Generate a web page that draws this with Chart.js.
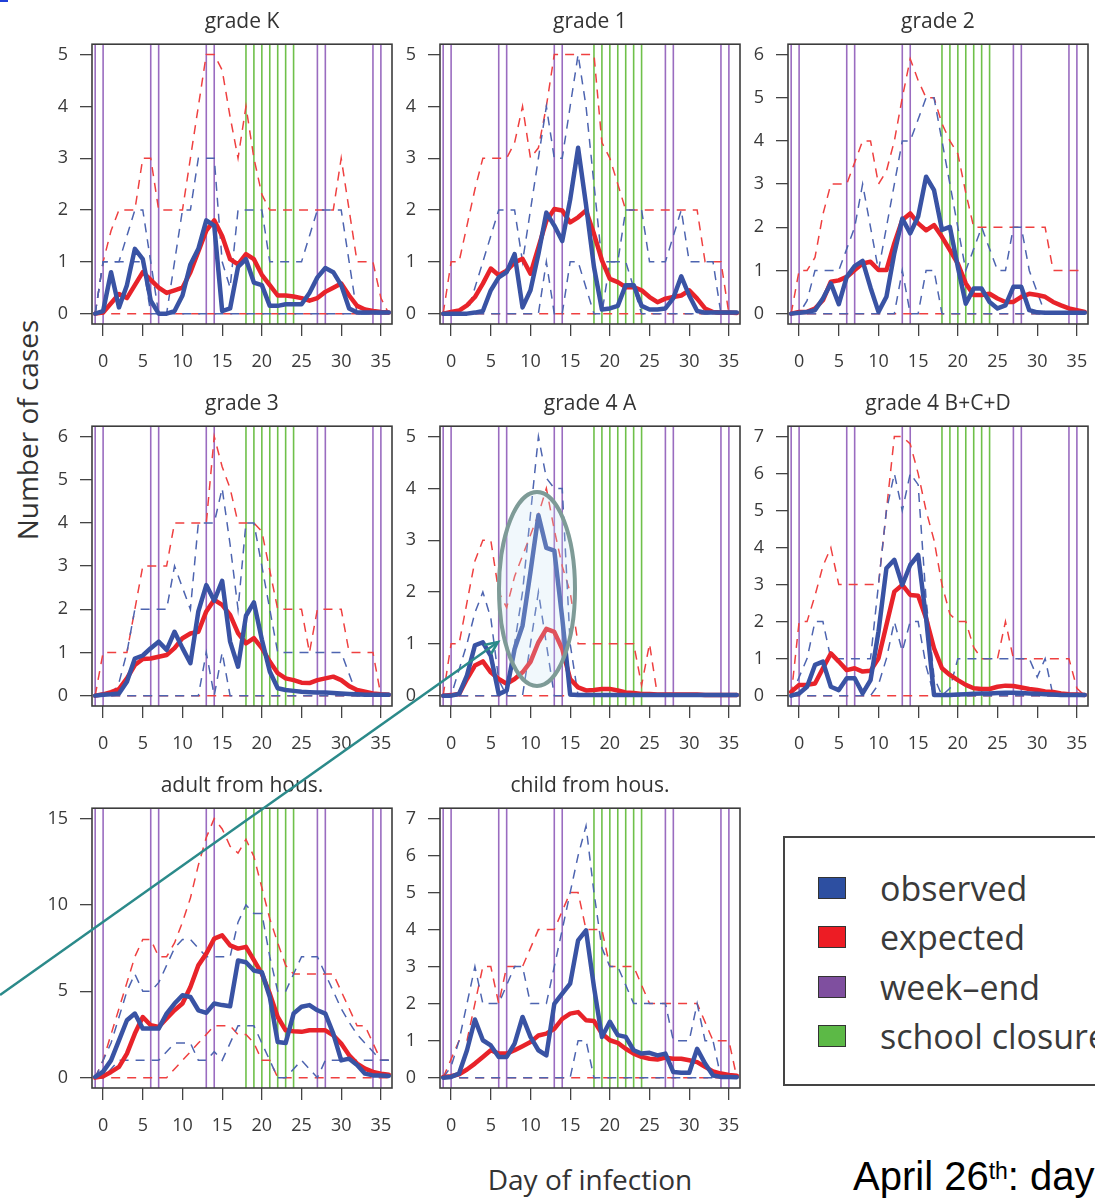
<!DOCTYPE html>
<html>
<head>
<meta charset="utf-8">
<title>Number of cases by day of infection</title>
<script src="https://cdn.jsdelivr.net/npm/chart.js@4.4.1/dist/chart.umd.min.js"></script>
<style>
  html, body { margin: 0; padding: 0; background: #fff; }
  body { position: relative; width: 1095px; height: 1201px; overflow: hidden; font-family: "Open Sans", sans-serif; color: #333; }
  canvas { position: absolute; }
  .axis-title { position: absolute; font-size: 28px; line-height: 1; white-space: nowrap; color: #333; }
  #ytitle { left: 27px; top: 430px; transform: translate(-50%, -50%) rotate(-90deg); }
  #xtitle { left: 590px; top: 1165px; transform: translateX(-50%); }
  #legend { position: absolute; left: 783px; top: 836px; width: 340px; height: 250px; box-sizing: border-box; border: 2px solid #444; }
  .key { position: absolute; left: 33px; width: 28px; height: 22px; box-sizing: border-box; border: 1.5px solid #333; }
  .key-label { position: absolute; left: 95px; font-size: 34px; line-height: 44px; white-space: nowrap; color: #3a3a3a; }
  #note { position: absolute; left: 853px; top: 1156px; font-family: "Liberation Sans", Arial, sans-serif; font-size: 40px; line-height: 40px; color: #000; white-space: nowrap; }
  #note sup { font-size: 23px; line-height: 0; vertical-align: 11px; }
  #corner { position: absolute; left: 0; top: 0; width: 8px; height: 2px; background: #2040d8; }
  #marks { position: absolute; left: 0; top: 0; pointer-events: none; }
</style>
</head>
<body>
<div id="corner"></div>

<div id="ytitle" class="axis-title">Number of cases</div>
<div id="xtitle" class="axis-title">Day of infection</div>

<div id="legend">
  <div class="key" style="top:39px;background:#2d4fa1"></div>
  <div class="key-label" style="top:28px">observed</div>
  <div class="key" style="top:88px;background:#ed1c24"></div>
  <div class="key-label" style="top:77px">expected</div>
  <div class="key" style="top:138px;background:#7f4f9f"></div>
  <div class="key-label" style="top:127px">week&#8211;end</div>
  <div class="key" style="top:187px;background:#5cb946"></div>
  <div class="key-label" style="top:176px">school closure</div>
</div>

<div id="note">April 26<sup>th</sup>: day</div>

<script>
const days = [-1, 0, 1, 2, 3, 4, 5, 6, 7, 8, 9, 10, 11, 12, 13, 14, 15, 16, 17, 18,
              19, 20, 21, 22, 23, 24, 25, 26, 27, 28, 29, 30, 31, 32, 33, 34, 35, 36];
const dayTicks = [0, 5, 10, 15, 20, 25, 30, 35];
const weekendDays = [-1, 0, 6, 7, 13, 14, 27, 28, 34, 35];
const closureDays = [18, 19, 20, 21, 22, 23, 24];

const allZero = [0, 0, 0, 0, 0, 0, 0, 0, 0, 0,
                 0, 0, 0, 0, 0, 0, 0, 0, 0, 0,
                 0, 0, 0, 0, 0, 0, 0, 0, 0, 0,
                 0, 0, 0, 0, 0, 0, 0, 0];

// grade K
const kObs = [0, 0.05, 0.8, 0.12, 0.55, 1.25, 1.05, 0.25, 0, 0,
              0.05, 0.35, 0.95, 1.25, 1.8, 1.7, 0.05, 0.1, 0.9, 1.05,
              0.6, 0.55, 0.15, 0.15, 0.18, 0.18, 0.18, 0.4, 0.7, 0.88,
              0.8, 0.55, 0.1, 0.02, 0.02, 0.02, 0.02, 0.02];
const kExp = [0, 0.02, 0.2, 0.38, 0.3, 0.55, 0.8, 0.65, 0.5, 0.4,
              0.45, 0.5, 0.8, 1.2, 1.6, 1.8, 1.5, 1.05, 0.95, 1.15,
              1.05, 0.75, 0.55, 0.35, 0.35, 0.33, 0.3, 0.25, 0.3, 0.42,
              0.5, 0.58, 0.35, 0.15, 0.08, 0.05, 0.03, 0.02];
const kExpHi = [0, 1, 1.6, 2, 2, 2, 3, 3, 2, 2,
                2, 2, 3, 4, 5, 5, 4.7, 3.8, 3, 4,
                3, 2.3, 2, 2, 2, 2, 2, 2, 2, 2,
                2, 3, 2, 1, 1, 1, 0.3, 0];
const kBandHi = [0, 1, 1, 1, 1.5, 2, 2, 1, 0, 0,
                 1, 2, 2, 3, 3, 3, 1, 0.5, 2, 2,
                 2, 2, 1, 1, 1, 1, 1, 1.5, 2, 2,
                 2, 2, 1, 0, 0, 0, 0, 0];
const kBandLo = [0, 1, 1, 1, 1, 1, 1, 0, 0, 0,
                 0, 0, 0, 0, 0, 0, 0, 0, 0, 0,
                 0, 0, 0, 0, 0, 0, 0, 0, 0, 0,
                 0, 0, 0, 0, 0, 0, 0, 0];

// grade 1
const g1Obs = [0, 0, 0, 0, 0.02, 0.05, 0.45, 0.7, 0.8, 1.15,
               0.12, 0.45, 1.15, 1.95, 1.7, 1.4, 2.2, 3.2, 2.1, 0.9,
               0.08, 0.1, 0.15, 0.55, 0.55, 0.15, 0.08, 0.08, 0.1, 0.3,
               0.72, 0.35, 0.05, 0.02, 0.02, 0.02, 0.02, 0.02];
const g1Exp = [0, 0.03, 0.06, 0.16, 0.32, 0.58, 0.87, 0.74, 0.83, 0.99,
               1.06, 0.77, 1.28, 1.79, 2.02, 1.99, 1.76, 1.86, 1.99, 1.54,
               1.03, 0.67, 0.61, 0.51, 0.51, 0.45, 0.32, 0.22, 0.29, 0.32,
               0.35, 0.45, 0.29, 0.1, 0.03, 0.02, 0.02, 0.01];
const g1ExpHi = [0, 1, 1, 1.7, 2.4, 3, 3, 3, 3, 3.3,
                 4, 3, 3.2, 4, 5, 5, 5, 5, 5, 5,
                 3.3, 3, 2.5, 2, 2, 2, 2, 2, 2, 2,
                 2, 2, 2, 1, 1, 1, 0, 0];
const g1BandHi = [0, 0, 0, 0, 0.5, 1, 1.5, 2, 2, 2,
                  1, 2, 3, 4, 3, 3, 4, 5, 4, 2.5,
                  1, 1, 1, 2, 2, 2, 1, 1, 1, 1.5,
                  2, 1, 1, 1, 1, 0, 0, 0];
const g1BandLo = [0, 0, 0, 0, 0, 0, 0, 0, 0, 0,
                  0, 0, 0, 1, 0, 0, 1, 1, 0.5, 0,
                  0, 1, 1, 1, 0.5, 0, 0, 0, 0, 0,
                  0, 0, 0, 0, 0, 0, 0, 0];

// grade 2
const g2Obs = [0, 0.02, 0.04, 0.08, 0.35, 0.7, 0.22, 0.85, 1.1, 1.22,
               0.6, 0.04, 0.39, 1.4, 2.2, 1.86, 2.25, 3.17, 2.86, 1.94,
               2.01, 1.08, 0.23, 0.58, 0.58, 0.27, 0.12, 0.19, 0.62, 0.62,
               0.08, 0.03, 0.02, 0.02, 0.02, 0.02, 0.02, 0.02];
const g2Exp = [0, 0.04, 0.04, 0.12, 0.31, 0.74, 0.77, 0.85, 1.01, 1.16,
               1.2, 1.01, 1.01, 1.63, 2.17, 2.32, 2.09, 1.93, 2.05, 1.78,
               1.47, 1.16, 0.7, 0.43, 0.43, 0.46, 0.35, 0.27, 0.27, 0.39,
               0.46, 0.43, 0.39, 0.27, 0.19, 0.12, 0.08, 0.04];
const g2ExpHi = [0, 1, 1, 1.3, 2.3, 3, 3, 3, 3.5, 4,
                 4, 3, 3.3, 4, 5, 5.9, 5.4, 5, 5, 4.4,
                 4, 3.7, 2.8, 2, 2, 2, 2, 2, 2, 2,
                 2, 2, 2, 1, 1, 1, 1, 1];
const g2BandHi = [0, 0, 0.3, 1, 1, 1, 1, 1.5, 2, 3,
                  2, 1, 2, 3, 4, 4, 4.5, 5, 5, 4,
                  3, 2, 1, 1.5, 2, 1.5, 1, 1, 2, 2,
                  1, 0.5, 0, 0, 0, 0, 0, 0];
const g2BandLo = [0, 0, 0, 0, 0, 0, 0, 0, 0, 0,
                  0, 0, 0, 0, 1, 0, 0, 1, 1, 0,
                  0, 0, 0, 0, 0, 0, 0, 0, 0, 0,
                  0, 0, 0, 0, 0, 0, 0, 0];

// grade 3
const g3Obs = [0, 0.02, 0.03, 0.05, 0.32, 0.86, 0.93, 1.1, 1.25, 1.06,
               1.48, 1.1, 0.75, 1.95, 2.56, 2.2, 2.66, 1.25, 0.67, 1.85,
               2.16, 1.3, 0.56, 0.17, 0.13, 0.11, 0.09, 0.08, 0.07, 0.07,
               0.06, 0.05, 0.04, 0.03, 0.02, 0.02, 0.02, 0.02];
const g3Exp = [0, 0.03, 0.08, 0.15, 0.4, 0.71, 0.85, 0.86, 0.9, 0.94,
               1.1, 1.33, 1.44, 1.48, 1.95, 2.22, 2.1, 1.87, 1.45, 1.21,
               1.33, 1.1, 0.79, 0.52, 0.4, 0.36, 0.3, 0.29, 0.36, 0.4,
               0.44, 0.36, 0.22, 0.13, 0.09, 0.05, 0.03, 0.02];
const g3ExpHi = [0, 1, 1, 1, 1, 2, 3, 3, 3, 3,
                 4, 4, 4, 4, 4, 6, 5.3, 4.8, 4, 4,
                 4, 3.8, 2.9, 2, 2, 2, 2, 1, 2, 2,
                 2, 2, 1, 1, 1, 1, 0, 0];
const g3BandHi = [0, 0, 0, 0.3, 1, 2, 2, 2, 2, 2,
                  3, 2.5, 2, 4, 4, 4, 4.8, 3.5, 2, 4,
                  4, 3, 2, 1, 1, 1, 1, 1, 1, 1,
                  1, 1, 0.5, 0, 0, 0, 0, 0];
const g3BandLo = [0, 0, 0, 0, 0, 0, 0, 0, 0, 0,
                  0, 0, 0, 0, 1, 0, 1, 0, 0, 0,
                  0, 0, 0, 0, 0, 0, 0, 0, 0, 0,
                  0, 0, 0, 0, 0, 0, 0, 0];

// grade 4 A
const g4aObs = [0, 0, 0.03, 0.39, 0.97, 1.03, 0.77, 0.03, 0.1, 0.9,
                1.35, 2.39, 3.48, 2.85, 2.8, 1.5, 0.02, 0.01, 0.01, 0.01,
                0.01, 0.01, 0.01, 0.01, 0.01, 0.01, 0.01, 0.01, 0.01, 0.01,
                0.01, 0.01, 0.01, 0.01, 0.01, 0.01, 0.01, 0.01];
const g4aExp = [0, 0.01, 0.03, 0.32, 0.58, 0.66, 0.45, 0.32, 0.23, 0.32,
                0.45, 0.65, 1.03, 1.29, 1.23, 0.9, 0.32, 0.16, 0.1, 0.11,
                0.13, 0.13, 0.1, 0.06, 0.05, 0.03, 0.03, 0.02, 0.02, 0.02,
                0.02, 0.02, 0.02, 0.01, 0.01, 0.01, 0.01, 0.01];
const g4aExpHi = [0, 1, 1, 1.8, 2.6, 3, 3, 2, 1.7, 2.3,
                  2.7, 3.1, 3.5, 4, 3.2, 2.5, 2, 1, 1, 1,
                  1, 1, 1, 1, 1, 0.2, 1, 0, 0, 0,
                  0, 0, 0, 0, 0, 0, 0, 0];
const g4aBandHi = [0, 0, 0.5, 1, 1.6, 2, 1.5, 0.3, 0, 1,
                   2, 3.5, 5, 4.2, 4, 4, 1, 0, 0, 0,
                   0, 0, 0, 0, 0, 0, 0, 0, 0, 0,
                   0, 0, 0, 0, 0, 0, 0, 0];
const g4aBandLo = [0, 0, 0, 0, 0, 0, 0, 0, 0, 0,
                   0, 1, 2, 1, 0, 0, 0, 0, 0, 0,
                   0, 0, 0, 0, 0, 0, 0, 0, 0, 0,
                   0, 0, 0, 0, 0, 0, 0, 0];

// grade 4 B+C+D
const g4bObs = [0, 0.06, 0.24, 0.83, 0.92, 0.24, 0.15, 0.47, 0.47, 0.06,
                0.42, 1.73, 3.44, 3.67, 2.99, 3.53, 3.8, 2.09, 0.02, 0.02,
                0.02, 0.03, 0.04, 0.05, 0.06, 0.06, 0.07, 0.08, 0.08, 0.07,
                0.06, 0.05, 0.04, 0.03, 0.02, 0.02, 0.02, 0.02];
const g4bExp = [0.1, 0.29, 0.29, 0.33, 0.74, 1.14, 0.92, 0.69, 0.74, 0.65,
                0.67, 1.01, 1.91, 2.81, 2.99, 2.72, 2.7, 2.09, 1.28, 0.74,
                0.56, 0.42, 0.29, 0.2, 0.18, 0.18, 0.24, 0.27, 0.26, 0.22,
                0.18, 0.15, 0.11, 0.1, 0.06, 0.04, 0.03, 0.02];
const g4bExpHi = [0, 2, 2, 2.7, 3.5, 4, 3, 3, 3, 3,
                  3, 3, 5, 7, 7, 6.8, 6, 5, 4.2, 3,
                  2.2, 2, 2, 1.3, 1, 1, 1, 2, 1, 1,
                  1, 1, 1, 1, 1, 1, 0.2, 0];
const g4bBandHi = [0, 0.5, 1, 2, 2, 1, 1, 1, 1, 1,
                   1, 3, 5, 6, 5, 6, 5.7, 2.6, 0.5, 0,
                   0.2, 1, 1, 1, 1, 1, 1, 1, 1, 1,
                   1, 0.5, 1, 0, 0, 0, 0, 0];
const g4bBandLo = [0, 0, 0, 0, 0, 0, 0, 0, 0, 0,
                   0, 0.3, 1, 2, 1.2, 2, 2, 0.8, 0, 0,
                   0, 0, 0, 0, 0, 0, 0, 0, 0, 0,
                   0, 0, 0, 0, 0, 0, 0, 0];

// adult from household
const adObs = [0.05, 0.35, 1, 2.16, 3.32, 3.71, 2.84, 2.84, 2.84, 3.71,
               4.29, 4.77, 4.67, 3.9, 3.75, 4.29, 4.2, 4.13, 6.78, 6.68,
               6.2, 6.1, 4.67, 2.06, 2, 3.71, 4.1, 4.2, 3.9, 3.71,
               2.55, 1, 1.1, 0.73, 0.23, 0.13, 0.12, 0.1];
const adExp = [0, 0.08, 0.33, 0.62, 1.39, 2.55, 3.51, 3.03, 2.93, 3.42,
               3.9, 4.29, 5.25, 6.5, 7.18, 8.05, 8.24, 7.66, 7.47, 7.57,
               6.8, 6.02, 4.86, 3.51, 2.74, 2.68, 2.65, 2.74, 2.74, 2.74,
               2.45, 1.97, 1.29, 0.81, 0.52, 0.33, 0.23, 0.17];
const adExpHi = [0, 1, 2.5, 4, 5.5, 7, 8, 8, 7, 7,
                 7.8, 9, 10.4, 12.3, 13.9, 15, 14.4, 13.4, 13, 13.8,
                 12.8, 11, 9.2, 7.8, 6.5, 6, 6, 6, 6, 6,
                 6, 5, 4, 3, 3, 2, 1, 1];
const adExpLo = [0, 0, 0, 0, 0, 0, 0, 0, 0, 0,
                 0.5, 1, 1.5, 2, 2.5, 3, 3, 3, 2.5, 2.5,
                 2, 1, 1, 0, 0, 0, 0, 0, 0, 0,
                 0, 0, 0, 0, 0, 0, 0, 0];
const adBandHi = [0, 1, 2, 3.5, 5, 6, 5, 5, 5.5, 6.5,
                  7.5, 8, 8, 7.5, 7, 7, 7, 7, 9, 10,
                  9.5, 9.5, 7, 5, 5, 6, 7, 7, 7, 6,
                  5, 4, 3.2, 2.5, 2, 1.5, 1, 1];
const adBandLo = [0, 0, 0.5, 1, 1, 1, 1, 1, 1, 1.5,
                  2, 2, 2, 1, 1, 1.5, 1, 2, 3, 3,
                  3, 2, 1, 0, 0, 0.5, 1, 0.5, 0, 1,
                  1, 1, 1, 1, 1, 1, 1, 1];

// child from household
const chObs = [0, 0.02, 0.11, 0.74, 1.57, 1.01, 0.87, 0.56, 0.56, 0.92,
               1.64, 1.1, 0.74, 0.6, 1.99, 2.27, 2.54, 3.71, 3.98, 2.45,
               1.1, 1.51, 1.15, 1.1, 0.74, 0.65, 0.67, 0.6, 0.65, 0.15,
               0.13, 0.13, 0.78, 0.38, 0.06, 0.02, 0.02, 0.01];
const chExp = [0.02, 0.04, 0.09, 0.22, 0.38, 0.56, 0.74, 0.65, 0.65, 0.74,
               0.85, 0.96, 1.14, 1.19, 1.32, 1.59, 1.73, 1.77, 1.55, 1.53,
               1.19, 1.01, 0.94, 0.78, 0.65, 0.56, 0.51, 0.49, 0.54, 0.51,
               0.51, 0.47, 0.42, 0.29, 0.17, 0.11, 0.07, 0.05];
const chExpHi = [0, 0.5, 1, 1, 2, 3, 3, 2, 3, 3,
                 3, 3.5, 4, 4, 4, 4.5, 5, 5, 4, 4,
                 4, 3, 3, 3, 3, 2.5, 2, 2, 2, 2,
                 2, 2, 2, 1.5, 1, 1, 1, 0];
const chBandHi = [0, 0.3, 1, 2, 3, 2, 2, 2, 2.5, 3,
                  3, 2, 2, 2, 3, 4, 5, 6, 6.8, 5,
                  3.5, 3, 3, 2.5, 2, 2, 2, 2, 2, 1,
                  1, 1, 2, 1, 1, 0, 0, 0];
const chBandLo = [0, 0, 0, 0, 0, 0, 0, 0, 0, 0,
                  0, 0, 0, 0, 0, 0, 0, 1, 1, 0,
                  0, 0, 0, 0, 0, 0, 0, 0, 0, 0,
                  0, 0, 0, 0, 0, 0, 0, 0];

const ticksTo5 = [0, 1, 2, 3, 4, 5];
const ticksTo6 = [0, 1, 2, 3, 4, 5, 6];
const ticksTo7 = [0, 1, 2, 3, 4, 5, 6, 7];
const ticksTo15 = [0, 5, 10, 15];

const panels = [
  { title: 'grade K', top: 5, ticks: ticksTo5, obs: kObs, exp: kExp, expHi: kExpHi, expLo: allZero, bandHi: kBandHi, bandLo: kBandLo },
  { title: 'grade 1', top: 5, ticks: ticksTo5, obs: g1Obs, exp: g1Exp, expHi: g1ExpHi, expLo: allZero, bandHi: g1BandHi, bandLo: g1BandLo },
  { title: 'grade 2', top: 6, ticks: ticksTo6, obs: g2Obs, exp: g2Exp, expHi: g2ExpHi, expLo: allZero, bandHi: g2BandHi, bandLo: g2BandLo },
  { title: 'grade 3', top: 6, ticks: ticksTo6, obs: g3Obs, exp: g3Exp, expHi: g3ExpHi, expLo: allZero, bandHi: g3BandHi, bandLo: g3BandLo },
  { title: 'grade 4 A', top: 5, ticks: ticksTo5, obs: g4aObs, exp: g4aExp, expHi: g4aExpHi, expLo: allZero, bandHi: g4aBandHi, bandLo: g4aBandLo },
  { title: 'grade 4 B+C+D', top: 7, ticks: ticksTo7, obs: g4bObs, exp: g4bExp, expHi: g4bExpHi, expLo: allZero, bandHi: g4bBandHi, bandLo: g4bBandLo },
  { title: 'adult from hous.', top: 15, ticks: ticksTo15, obs: adObs, exp: adExp, expHi: adExpHi, expLo: adExpLo, bandHi: adBandHi, bandLo: adBandLo },
  { title: 'child from hous.', top: 7, ticks: ticksTo7, obs: chObs, exp: chExp, expHi: chExpHi, expLo: allZero, bandHi: chBandHi, bandLo: chBandLo }
];

// grid of plot boxes
const colLeft = [92, 440, 788];
const rowTop = [44, 426, 808];
const plotW = 300, plotH = 280;
const yAxisW = 60, xAxisH = 60, titleH = 35, padRight = 4;

const FONT = 'Open Sans';
const AXIS_INK = '#444';
const LABEL_INK = '#3a3a3a';

// week-end and school-closure days behind the curves, box frame on top
const calendarFrame = {
  id: 'calendarFrame',
  beforeDatasetsDraw(chart) {
    const { ctx, chartArea: a, scales: { x } } = chart;
    ctx.save();
    ctx.lineWidth = 1.6;
    const rule = (d) => {
      const px = x.getPixelForValue(d);
      ctx.beginPath();
      ctx.moveTo(px, a.top);
      ctx.lineTo(px, a.bottom);
      ctx.stroke();
    };
    ctx.strokeStyle = '#9a6cc0';
    weekendDays.forEach(rule);
    ctx.strokeStyle = '#6fc04a';
    closureDays.forEach(rule);
    ctx.restore();
  },
  afterDatasetsDraw(chart) {
    const { ctx, chartArea: a } = chart;
    ctx.save();
    ctx.lineWidth = 1.6;
    ctx.strokeStyle = '#3c3c3c';
    ctx.strokeRect(a.left, a.top, a.right - a.left, a.bottom - a.top);
    ctx.restore();
  }
};

function series(values) {
  return values.map((v, i) => ({ x: days[i], y: v }));
}

function thick(label, values, color) {
  return {
    label, data: series(values), borderColor: color, borderWidth: 4.5,
    pointRadius: 0, tension: 0, fill: false,
    borderJoinStyle: 'round', borderCapStyle: 'round'
  };
}

function dashed(label, values, color) {
  return {
    label, data: series(values), borderColor: color, borderWidth: 1.5,
    borderDash: [9, 7], pointRadius: 0, tension: 0, fill: false
  };
}

function axisGrid() {
  return { drawOnChartArea: false, drawTicks: true, tickLength: 12, color: AXIS_INK, lineWidth: 1.3 };
}

// fixed axis sizes, and no extra room reserved for overhanging labels
function fixSize(s, w, h) {
  if (w !== null) s.width = w;
  if (h !== null) s.height = h;
  s.paddingLeft = 0;
  s.paddingRight = 0;
  s.paddingTop = 0;
  s.paddingBottom = 0;
}

panels.forEach((p, i) => {
  const col = i % 3, row = Math.floor(i / 3);
  const canvas = document.createElement('canvas');
  canvas.width = yAxisW + plotW + padRight;
  canvas.height = titleH + plotH + xAxisH;
  canvas.style.left = (colLeft[col] - yAxisW) + 'px';
  canvas.style.top = (rowTop[row] - titleH) + 'px';
  document.body.appendChild(canvas);

  new Chart(canvas, {
    type: 'line',
    data: {
      datasets: [
        thick('observed', p.obs, '#3953a4'),
        thick('expected', p.exp, '#e8232a'),
        dashed('observed upper', p.bandHi, '#4d64b0'),
        dashed('observed lower', p.bandLo, '#4d64b0'),
        dashed('expected upper', p.expHi, '#ef4040'),
        dashed('expected lower', p.expLo, '#ef4040')
      ]
    },
    options: {
      responsive: false,
      animation: false,
      events: [],
      layout: { autoPadding: false, padding: { top: 0, right: padRight, bottom: 0, left: 0 } },
      plugins: {
        legend: { display: false },
        tooltip: { enabled: false },
        title: {
          display: true, text: p.title, fullSize: false, color: '#333',
          font: { family: FONT, size: 21, weight: 'normal', lineHeight: 1.2 },
          padding: { top: 0, bottom: 10 }
        }
      },
      scales: {
        x: {
          type: 'linear', min: -1.4, max: 36.4,
          afterBuildTicks: (s) => { s.ticks = dayTicks.map(v => ({ value: v })); },
          afterFit: (s) => fixSize(s, null, xAxisH),
          grid: axisGrid(),
          border: { display: false },
          ticks: { autoSkip: false, maxRotation: 0, padding: 15, color: LABEL_INK, font: { family: FONT, size: 18 } }
        },
        y: {
          type: 'linear', min: -0.04 * p.top, max: 1.04 * p.top,
          afterBuildTicks: (s) => { s.ticks = p.ticks.map(v => ({ value: v })); },
          afterFit: (s) => fixSize(s, yAxisW, null),
          grid: axisGrid(),
          border: { display: false },
          ticks: { autoSkip: false, padding: 12, color: LABEL_INK, font: { family: FONT, size: 18 } }
        }
      }
    },
    plugins: [calendarFrame]
  });
});
</script>

<svg id="marks" width="1095" height="1201">
  <ellipse cx="537" cy="589" rx="38" ry="97" fill="rgba(200,228,242,0.25)" stroke="#7e9b97" stroke-width="4"/>
  <line x1="0" y1="995" x2="498" y2="642" stroke="#2b8a8a" stroke-width="2.5"/>
  <polyline points="484,645 498,642 491,654" fill="none" stroke="#2b8a8a" stroke-width="2.5"/>
</svg>
</body>
</html>
